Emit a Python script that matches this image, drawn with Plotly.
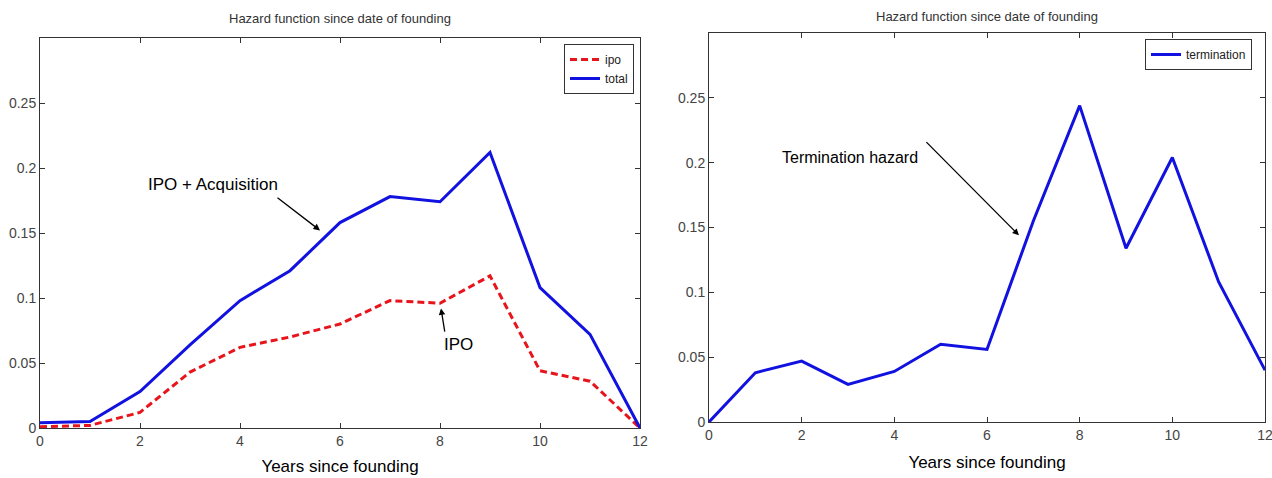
import plotly.graph_objects as go

years = [0, 1, 2, 3, 4, 5, 6, 7, 8, 9, 10, 11, 12]
ipo = [0.001, 0.002, 0.012, 0.043, 0.062, 0.070, 0.080, 0.098, 0.096, 0.117, 0.044, 0.036, 0.0]
total = [0.004, 0.005, 0.028, 0.064, 0.098, 0.121, 0.158, 0.178, 0.174, 0.212, 0.108, 0.072, 0.0]
termination = [0.0, 0.038, 0.047, 0.029, 0.039, 0.060, 0.056, 0.155, 0.244, 0.134, 0.204, 0.108, 0.040]

ytick_vals = [0, 0.05, 0.1, 0.15, 0.2, 0.25]
ytick_text = ["0", "0.05", "0.1", "0.15", "0.2", "0.25"]
xtick_vals = [0, 2, 4, 6, 8, 10, 12]

title_text = "Hazard function since date of founding"
xlabel = "Years since founding"

W, H = 1272, 478
BLUE = "#1212e0"
RED = "#e8141c"
NARROW = "Liberation Sans Narrow, Liberation Sans, Arial"
REGULAR = "Liberation Sans, Arial"
TICKFONT = dict(family=NARROW, size=14, color="#444444")

def px_x(p):
    return p / W

def px_y(p):
    return 1 - p / H

fig = go.Figure()
fig.add_trace(go.Scatter(x=years, y=ipo, name="ipo", mode="lines",
                         line=dict(color=RED, width=3, dash="7px,4px"),
                         xaxis="x", yaxis="y", legend="legend"))
fig.add_trace(go.Scatter(x=years, y=total, name="total", mode="lines",
                         line=dict(color=BLUE, width=3),
                         xaxis="x", yaxis="y", legend="legend"))
fig.add_trace(go.Scatter(x=years, y=termination, name="termination", mode="lines",
                         line=dict(color=BLUE, width=3),
                         xaxis="x2", yaxis="y2", legend="legend2"))

axis_common = dict(showgrid=False, zeroline=False, showline=True, linecolor="#333333",
                   linewidth=1, mirror="ticks", ticks="inside", ticklen=5,
                   tickcolor="#333333", tickfont=TICKFONT, automargin=False)
xtitle_font = dict(family=REGULAR, size=17, color="black")

fig.update_layout(
    width=W, height=H,
    margin=dict(l=0, r=0, t=0, b=0, autoexpand=False),
    paper_bgcolor="white", plot_bgcolor="white",
    xaxis=dict(domain=[px_x(40), px_x(640)], range=[0, 12], tickvals=xtick_vals,
               anchor="y", title=dict(text=xlabel, font=xtitle_font, standoff=12),
               ticklabeloverflow="allow", **axis_common),
    yaxis=dict(domain=[px_y(428), px_y(38)], range=[0, 0.3], tickvals=ytick_vals,
               ticktext=ytick_text, anchor="x", **axis_common),
    xaxis2=dict(domain=[px_x(709), px_x(1265)], range=[0, 12], tickvals=xtick_vals,
                anchor="y2", title=dict(text=xlabel, font=xtitle_font, standoff=14),
                ticklabeloverflow="allow", **axis_common),
    yaxis2=dict(domain=[px_y(422), px_y(33)], range=[0, 0.3], tickvals=ytick_vals,
                ticktext=ytick_text, anchor="x2", **axis_common),
    legend=dict(x=px_x(634), y=px_y(44), xanchor="right", yanchor="top",
                bordercolor="#333333", borderwidth=1, bgcolor="white",
                font=dict(family=NARROW, size=12, color="#222222"),
                tracegroupgap=0, itemwidth=30),
    legend2=dict(x=px_x(1252), y=px_y(39), xanchor="right", yanchor="top",
                 bordercolor="#333333", borderwidth=1, bgcolor="white",
                 font=dict(family=NARROW, size=12, color="#222222"),
                 itemwidth=30),
    showlegend=True,
)

annotations = [
    dict(text=title_text, x=0.5 * (px_x(40) + px_x(640)), y=px_y(18), xref="paper", yref="paper",
         xanchor="center", yanchor="middle", showarrow=False,
         font=dict(family=NARROW, size=13, color="#333333")),
    dict(text=title_text, x=0.5 * (px_x(709) + px_x(1265)), y=px_y(17), xref="paper", yref="paper",
         xanchor="center", yanchor="middle", showarrow=False,
         font=dict(family=NARROW, size=13, color="#333333")),
    dict(text="IPO + Acquisition", x=3.45, y=0.187, xref="x", yref="y", showarrow=False,
         font=dict(family=REGULAR, size=17, color="black")),
    dict(text="", x=5.6, y=0.152, ax=4.72, ay=0.178, xref="x", yref="y", axref="x", ayref="y",
         showarrow=True, arrowhead=2, arrowsize=1, arrowwidth=1.3, arrowcolor="black"),
    dict(text="IPO", x=8.36, y=0.0646, xref="x", yref="y", showarrow=False,
         font=dict(family=REGULAR, size=17, color="black")),
    dict(text="", x=8.02, y=0.092, ax=8.1, ay=0.073, xref="x", yref="y", axref="x", ayref="y",
         showarrow=True, arrowhead=2, arrowsize=1, arrowwidth=1.3, arrowcolor="black"),
    dict(text="Termination hazard", x=3.04, y=0.204, xref="x2", yref="y2", showarrow=False,
         font=dict(family=REGULAR, size=16, color="black")),
    dict(text="", x=6.69, y=0.144, ax=4.66, ay=0.217, xref="x2", yref="y2", axref="x2", ayref="y2",
         showarrow=True, arrowhead=2, arrowsize=1, arrowwidth=1.3, arrowcolor="black"),
]
fig.update_layout(annotations=annotations)

fig.write_html("out.html", config={"displayModeBar": False},
               post_script="document.body.style.margin='0';document.body.style.overflow='hidden';")
